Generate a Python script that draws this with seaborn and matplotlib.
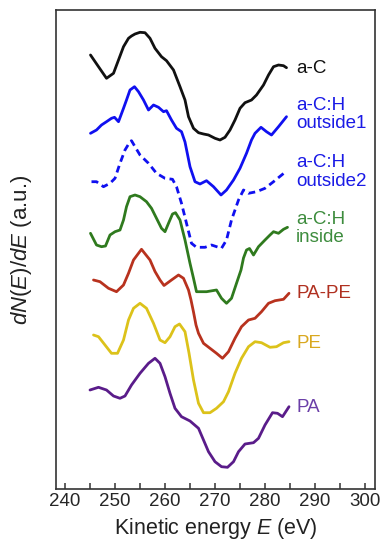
import numpy as np
import pandas as pd
import matplotlib
matplotlib.use("Agg")
import matplotlib.pyplot as plt
import seaborn as sns

########## Spectra (a.u. with vertical offsets) ##########

energy_aC = [245.1, 246.7, 248.3, 249.7, 250.7, 251.7, 252.7, 253.3, 254.0, 255.0, 256.0, 257.0,
             258.0, 259.3, 260.3, 261.7, 263.0, 264.0, 264.7, 265.7, 266.7, 267.7, 268.7, 270.0,
             271.0, 272.0, 273.0, 274.0, 275.0, 276.0, 277.3, 278.3, 279.7, 280.7, 281.7, 282.7,
             283.7, 284.3]
signal_aC = [434, 422.3, 410.7, 415.7, 429, 442.3, 450.7, 453, 455, 456.7, 456.3, 450.7,
             440.7, 432.3, 428.3, 419, 402.3, 389, 372.3, 360.7, 356.3, 355, 354, 350.7,
             349, 351.7, 359, 369, 380.7, 386.3, 389, 394, 404, 414, 422.3, 424,
             423.3, 421.3]

energy_out1 = [245.1, 246.3, 247.3, 248.3, 249.3, 249.9, 250.7, 251.7, 252.3, 253.0, 253.9, 254.7,
               255.7, 256.7, 257.7, 258.7, 259.7, 260.3, 261.3, 262.3, 263.3, 264.0, 265.0, 266.0,
               267.0, 268.3, 269.7, 271.2, 272.3, 273.7, 275.0, 276.3, 277.3, 278.0, 279.2, 280.3,
               281.3, 282.7, 284.3]
signal_out1 = [355.7, 359, 364, 367.3, 370.7, 371.7, 367.3, 380.7, 389, 399, 402.3, 397.3,
               389, 379, 384, 381.7, 377.3, 378.3, 369, 360.7, 357.3, 347, 322.3, 307.3,
               305, 308.3, 302.3, 294, 299, 309, 320.7, 335.7, 349, 355.7, 361.7, 357.3,
               354, 362.3, 372.3]

energy_out2 = [245.3, 246.3, 247.7, 249.0, 250.0, 251.0, 252.0, 253.0, 253.3, 254.0, 255.0, 256.7,
               258.3, 260.0, 261.5, 262.3, 263.3, 264.3, 265.3, 266.3, 268.0, 269.3, 271.3, 272.3,
               273.3, 274.7, 275.7, 276.7, 278.3, 280.0, 281.7, 284.0]
signal_out2 = [307.3, 307.3, 302.3, 305.7, 310.7, 325.7, 339, 347.3, 348.3, 342.3, 334, 325.7,
               315.7, 310.7, 309.7, 302.3, 285.7, 265.7, 245.7, 241.7, 241.7, 244, 240.7, 249,
               269, 289, 299, 295.7, 297.3, 300.7, 307.3, 316.7]

energy_in = [245.1, 246.3, 247.3, 248.1, 249.0, 250.0, 251.0, 251.7, 252.3, 253.0, 254.0, 255.0,
             256.3, 257.3, 258.3, 259.3, 260.0, 260.7, 261.5, 262.1, 263.0, 264.0, 265.0, 265.7,
             266.3, 268.3, 270.3, 271.3, 272.3, 273.3, 274.3, 275.2, 275.7, 276.3, 276.9, 277.7,
             278.7, 280.0, 281.0, 281.7, 282.7, 283.7, 284.5]
signal_in = [255.7, 244, 242.3, 243, 254, 257.3, 259, 269, 282.3, 292.3, 294, 292.3,
             287.3, 280.7, 270.7, 260.7, 257.3, 265.7, 275, 276.3, 269, 249, 225.7, 210.7,
             197.3, 197.3, 199, 190.7, 185.7, 190.7, 205.7, 219, 231, 239, 240.5, 234,
             242.3, 249, 254, 257.3, 255.7, 259.7, 261.7]

energy_pape = [245.7, 247.0, 248.7, 250.3, 251.7, 252.7, 253.7, 255.3, 257.0, 258.0, 259.0, 259.8,
               261.3, 262.7, 263.7, 264.7, 265.2, 265.7, 266.2, 266.7, 267.7, 269.0, 270.3, 271.5,
               272.7, 274.0, 275.3, 276.7, 278.0, 279.3, 280.7, 282.0, 283.7, 284.8]
signal_pape = [209, 207.3, 200.7, 197.3, 204, 215.7, 229, 239.7, 229, 217.5, 209, 203.5,
               209, 214, 210.7, 199, 189, 177, 164, 155.7, 145.7, 140.7, 135.7, 130.7,
               137.3, 150.7, 162.3, 169, 170.7, 177.3, 185.7, 188.3, 189.7, 195.7]

energy_pe = [245.7, 246.7, 248.0, 249.3, 250.5, 251.7, 252.7, 253.7, 255.0, 256.3, 257.7, 259.0,
             260.0, 261.0, 262.0, 262.9, 264.0, 264.8, 265.7, 266.7, 267.7, 269.0, 270.3, 271.7,
             272.7, 274.0, 275.3, 276.7, 278.0, 279.3, 281.0, 282.3, 283.7, 284.8]
signal_pe = [154, 152.3, 144, 135.7, 135.7, 149, 169, 180.7, 185.7, 180.7, 165.7, 149,
             146.3, 152.3, 162.3, 165, 157.3, 136, 109, 85.7, 76.3, 76.3, 80.7, 87.3,
             97.3, 115.7, 130.7, 142.3, 147.3, 146.3, 141.7, 142.3, 146.3, 147.3]

energy_pa = [245.0, 246.7, 248.3, 249.7, 251.0, 252.0, 253.3, 255.0, 256.7, 258.0, 259.0, 260.0,
             261.0, 262.0, 263.3, 265.0, 266.7, 267.7, 268.7, 270.0, 271.3, 272.5, 273.7, 274.7,
             276.0, 277.7, 278.7, 280.0, 281.5, 282.5, 283.5, 284.8]
signal_pa = [99, 101.7, 99, 93, 90.7, 93, 104, 115.7, 125.7, 130.7, 125.7, 112.3,
             95.7, 80.7, 72.3, 68, 60.7, 49, 37.3, 27.3, 22.3, 21.7, 27.3, 37.3,
             45, 46.3, 50.7, 64, 76.3, 75.7, 72.3, 82.3]

# series: (energy, signal, line colour, line style)
series = {
    "a-C": (energy_aC, signal_aC, "#111111", "-"),
    "outside1": (energy_out1, signal_out1, "#1010f0", "-"),
    "outside2": (energy_out2, signal_out2, "#1010f0", "--"),
    "inside": (energy_in, signal_in, "#2f7a1e", "-"),
    "PA-PE": (energy_pape, signal_pape, "#b8321e", "-"),
    "PE": (energy_pe, signal_pe, "#dcc21a", "-"),
    "PA": (energy_pa, signal_pa, "#5a1c8a", "-"),
}

# curve labels: (lines, colour, y position of each line)
labels = [
    (["a-C"], "#111111", [421]),
    (["a-C:H", "outside1"], "#1a1ae6", [384, 366]),
    (["a-C:H", "outside2"], "#1a1ae6", [327, 308]),
    (["a-C:H", "inside"], "#3d8c3d", [270, 251]),
    (["PA-PE"], "#b03020", [195]),
    (["PE"], "#d9a820", [145]),
    (["PA"], "#6b3fa8", [81]),
]

x_ticks = [240, 250, 260, 270, 280, 290, 300]

########## Plot ##########

sns.set_theme(style="ticks")
plt.rcParams["font.family"] = ["Liberation Sans", "DejaVu Sans"]
plt.rcParams["mathtext.fontset"] = "custom"
plt.rcParams["mathtext.rm"] = "Liberation Sans"
plt.rcParams["mathtext.it"] = "Liberation Sans:italic"

fig = plt.figure(figsize=(3.89, 5.5), dpi=100)
ax = fig.add_axes([56 / 389, 61 / 550, 319 / 389, 479 / 550])

for name, (e, s, col, ls) in series.items():
    df = pd.DataFrame({"E": e, "S": s})
    sns.lineplot(data=df, x="E", y="S", ax=ax, color=col, linewidth=2.0, sort=False)
    line = ax.lines[-1]
    line.set_solid_joinstyle("round")
    line.set_solid_capstyle("round")
    if ls == "--":
        line.set_dashes([2.5, 1.6])

for lines, col, ys in labels:
    for txt, yy in zip(lines, ys):
        ax.text(286.2, yy, txt, color=col, fontsize=13.5, ha="left", va="center")

ax.set_xlim(238.2, 302)
ax.set_ylim(0, 479)
ax.set_xticks(x_ticks)
ax.set_xticks(np.arange(245, 300, 10), minor=True)
ax.set_yticks([])
ax.tick_params(axis="x", which="both", direction="in", length=4, width=1.1, color="#333333",
               labelsize=13.5, pad=3)
for sp in ax.spines.values():
    sp.set_visible(True)
    sp.set_color("#333333")
    sp.set_linewidth(1.2)

ax.set_xlabel(r"Kinetic energy $E$ (eV)", fontsize=15.5, labelpad=4, color="#222222")
ax.set_ylabel(r"$dN$($E$)/$dE$ (a.u.)", fontsize=16, labelpad=16, color="#222222")

fig.savefig("out.png", dpi=100)
print("Completed successfully")
